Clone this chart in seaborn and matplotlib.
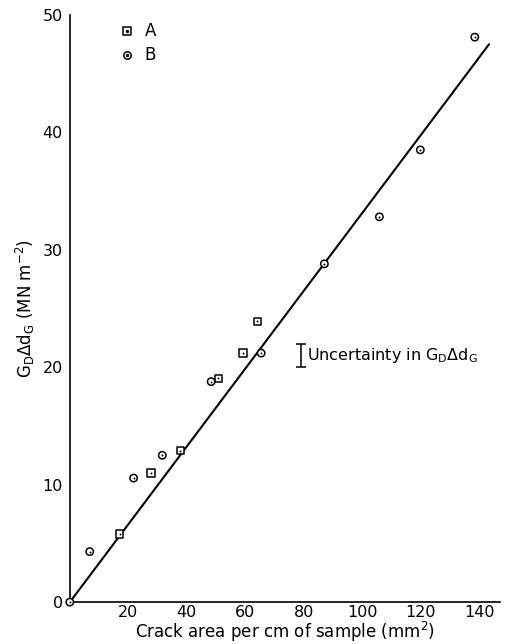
import matplotlib
matplotlib.use("Agg")
import matplotlib.pyplot as plt
import seaborn as sns
import pandas as pd
import numpy as np

# Data
a_x = [17.0, 27.7, 37.8, 50.8, 59.2, 64.1]
a_y = [5.8, 11.0, 12.9, 19.05, 21.2, 23.9]
b_x = [0.0, 6.8, 21.8, 31.6, 48.3, 65.4, 87.0, 105.8, 119.8, 138.4]
b_y = [0.0, 4.3, 10.56, 12.5, 18.77, 21.2, 28.8, 32.8, 38.5, 48.1]
fit_x = [0.0, 143.3]
fit_y = [0.0, 47.5]
x_ticks = [20, 40, 60, 80, 100, 120, 140]
y_ticks = [0, 10, 20, 30, 40, 50]
unc_x = 79.0
unc_center = 21.0
unc_half = 0.97

sns.set_style("white")
plt.rcParams['font.family'] = ['DejaVu Sans']
plt.rcParams.update({
    "text.color": "black", "axes.labelcolor": "black",
    "xtick.color": "black", "ytick.color": "black",
    "axes.edgecolor": "black",
})

df = pd.DataFrame({
    "x": a_x + b_x,
    "y": a_y + b_y,
    "set": ["A"] * len(a_x) + ["B"] * len(b_x),
})
fit = pd.DataFrame({"x": fit_x, "y": fit_y})

fig = plt.figure(figsize=(5.06, 6.44), dpi=100)
ax = fig.add_axes([0.138, 0.065, 0.850, 0.912])

sns.lineplot(data=fit, x="x", y="y", ax=ax, color="black", lw=1.5, clip_on=False)
sns.scatterplot(data=df, x="x", y="y", style="set", markers={"A": "s", "B": "o"},
                ax=ax, color="white", edgecolor="black", linewidth=1.1, s=28,
                legend=False, clip_on=False, zorder=3)
sns.scatterplot(data=df, x="x", y="y", ax=ax, color="black", s=2, linewidth=0,
                legend=False, clip_on=False, zorder=4)

ax.set_xlim(0, 147)
ax.set_ylim(0, 50)
ax.set_xticks(x_ticks)
ax.set_yticks(y_ticks)
ax.tick_params(direction="in", length=11, width=1.2, labelsize=11.5)
ax.tick_params(axis="x", pad=2)
ax.tick_params(axis="y", pad=5)
for s in ["top", "right"]:
    ax.spines[s].set_visible(False)
for s in ["left", "bottom"]:
    ax.spines[s].set_linewidth(1.2)
    ax.spines[s].set_color("black")

ax.set_xlabel("Crack area per cm of sample (mm$^2$)", fontsize=12, labelpad=0)
ax.set_ylabel("G$_\\mathrm{D}$$\\Delta$d$_\\mathrm{G}$ (MN m$^{-2}$)", fontsize=12, labelpad=4)

# Legend (manual, in data coords)
ax.scatter([19.5], [48.6], marker="s", facecolor="white", edgecolor="black", s=28, lw=1.1, zorder=3)
ax.scatter([19.5], [48.6], color="black", s=2, zorder=4)
ax.scatter([19.5], [46.6], marker="o", facecolor="white", edgecolor="black", s=28, lw=1.1, zorder=3)
ax.scatter([19.5], [46.6], color="black", s=2, zorder=4)
ax.text(25.5, 48.6, "A", fontsize=12, va="center", ha="left")
ax.text(25.5, 46.6, "B", fontsize=12, va="center", ha="left")

# Uncertainty bar
ax.errorbar([unc_x], [unc_center], yerr=[unc_half], color="black", capsize=3.5,
            elinewidth=1.1, capthick=1.1, fmt="none")
ax.text(unc_x + 2.2, unc_center, "Uncertainty in G$_\\mathrm{D}$$\\Delta$d$_\\mathrm{G}$",
        fontsize=11.5, va="center", ha="left")

fig.savefig("out.png", dpi=100)
